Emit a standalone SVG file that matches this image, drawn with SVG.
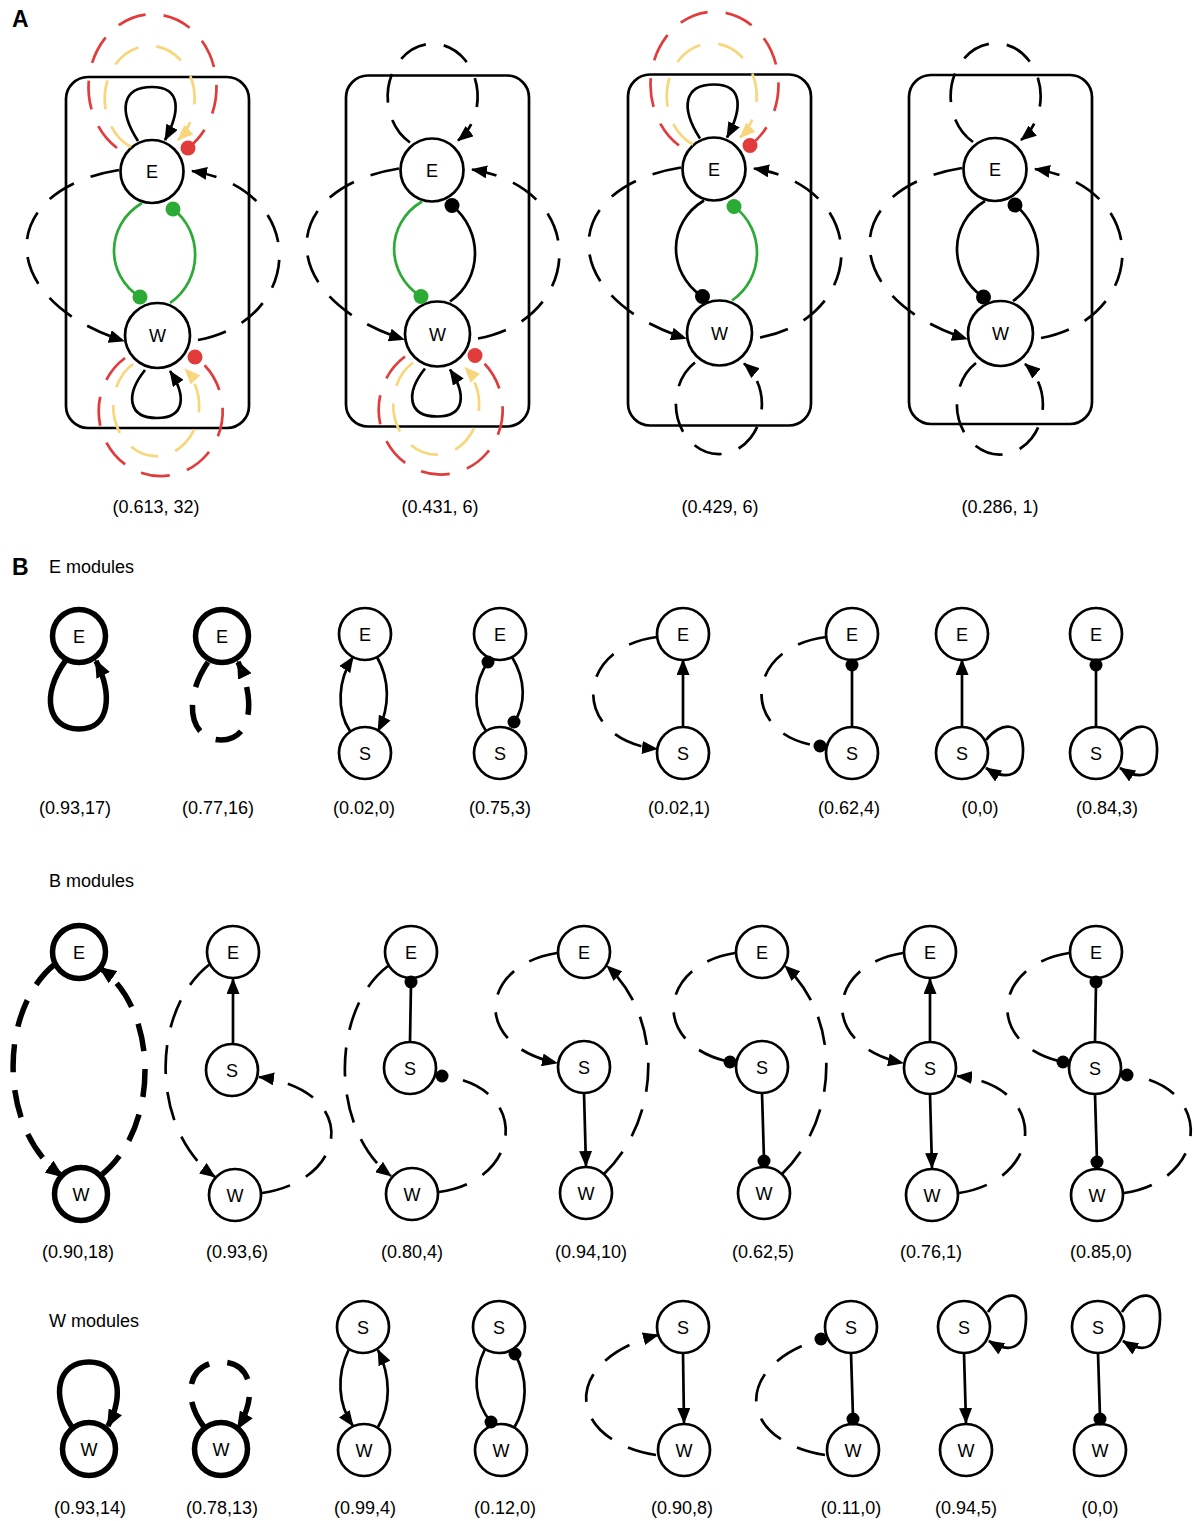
<svg xmlns="http://www.w3.org/2000/svg" width="1194" height="1521" viewBox="0 0 1194 1521">
<defs>
<style>
.n{fill:#fff;stroke:#000;stroke-width:2.7}
.nt{fill:#fff;stroke:#000;stroke-width:5.5}
.e{fill:none;stroke:#000;stroke-width:2.7}
.t{stroke-width:5.5}
.d{stroke-dasharray:29 18}
.dt{stroke-dasharray:28 18}
.red{stroke:#e23b3b}
.yel{stroke:#f8d67c}
.grn{stroke:#2caa36}
.box{fill:none;stroke:#000;stroke-width:2.7}
.dot{fill:#000}
.dr{fill:#e23b3b}
.dg{fill:#2caa36}
text{font-family:"Liberation Sans",Arial,Helvetica,sans-serif;font-size:18px;fill:#000}
.c{text-anchor:middle}
.hd{font-weight:bold;font-size:23px}
</style>
<marker id="ar" viewBox="0 0 16 13" refX="15" refY="6.5" markerWidth="16" markerHeight="13" markerUnits="userSpaceOnUse" orient="auto"><path d="M0,0L16,6.5L0,13z" fill="#000"/></marker>
<marker id="arY" viewBox="0 0 16 13" refX="15" refY="6.5" markerWidth="16" markerHeight="13" markerUnits="userSpaceOnUse" orient="auto"><path d="M0,0L16,6.5L0,13z" fill="#f8d67c"/></marker>
<marker id="arT" viewBox="0 0 18 15" refX="16" refY="7.5" markerWidth="18" markerHeight="15" markerUnits="userSpaceOnUse" orient="auto"><path d="M0,0L18,7.5L0,15z" fill="#000"/></marker>
</defs>
<rect width="1194" height="1521" fill="#fff"/>

<text x="12" y="27" class="hd">A</text>
<text x="12" y="575" class="hd">B</text>

<!-- Panel A, diagram 1 -->
<g id="a1" transform="translate(0,0)">
<rect x="66" y="77" width="183" height="351" rx="22" class="box"/>
<g id="a1-nodes">
<g id="a1-E"><circle cx="152" cy="171.5" r="31.5" class="n"/><text x="152" y="178" class="c">E</text></g>
<g id="a1-W"><circle cx="157.5" cy="335.5" r="32.5" class="n"/><text x="157.5" y="342" class="c">W</text></g>
</g>
<g id="a1-connectors">
<path class="e" d="M138,141 C118,110 122,87 152,87 C182,87 180,112 165,140" marker-end="url(#ar)"/>
<path class="e red d" d="M117,148 A64,73 0 1 1 188,148"/>
<circle cx="188" cy="148" r="7.5" class="dr"/>
<path class="e yel d" d="M131,147 A45,53 0 1 1 178,140" marker-end="url(#arY)"/>
<path class="e d" d="M119,170 C-5,190 -5,300 124,341" marker-end="url(#ar)"/>
<path class="e d" d="M198,340 C305,320 310,190 192,171" marker-end="url(#ar)"/>
<path class="e grn" d="M142,203 C105,225 105,275 140,297"/>
<circle cx="140" cy="297" r="7.5" class="dg"/>
<path class="e grn" d="M170,303 C203,280 203,232 173,209"/>
<circle cx="173" cy="209" r="7.5" class="dg"/>
<path class="e" d="M145,370 C125,395 128,418 157,418 C186,418 186,395 170,371" marker-end="url(#ar)"/>
<path class="e red d" d="M125,358 A62,65 0 1 0 195,357"/>
<circle cx="195" cy="357" r="7.5" class="dr"/>
<path class="e yel d" d="M133,364 A43,50 0 1 0 185,369" marker-end="url(#arY)"/>
</g>
</g>

<!-- Panel A, diagram 2 -->
<g id="a2" transform="translate(280,-1.5)">
<rect x="66" y="77" width="183" height="351" rx="22" class="box"/>
<g id="a2-nodes">
<g id="a2-E"><circle cx="152" cy="171.5" r="31.5" class="n"/><text x="152" y="178" class="c">E</text></g>
<g id="a2-W"><circle cx="157.5" cy="335.5" r="32.5" class="n"/><text x="157.5" y="342" class="c">W</text></g>
</g>
<g id="a2-connectors">
<path class="e d" d="M130,144 A45,53 0 1 1 178,142" marker-end="url(#ar)"/>
<path class="e d" d="M119,170 C-5,190 -5,300 124,341" marker-end="url(#ar)"/>
<path class="e d" d="M198,340 C305,320 310,190 192,171" marker-end="url(#ar)"/>
<path class="e grn" d="M142,203 C105,225 105,275 141,298"/>
<circle cx="141" cy="298" r="7.5" class="dg"/>
<path class="e" d="M170,303 C203,280 203,232 172,207"/>
<circle cx="172" cy="207" r="7.5" class="dot"/>
<path class="e" d="M145,370 C125,395 128,418 157,418 C186,418 186,395 170,371" marker-end="url(#ar)"/>
<path class="e red d" d="M125,358 A62,65 0 1 0 195,357"/>
<circle cx="195" cy="357" r="7.5" class="dr"/>
<path class="e yel d" d="M133,364 A43,50 0 1 0 185,369" marker-end="url(#arY)"/>
</g>
</g>

<!-- Panel A, diagram 3 -->
<g id="a3" transform="translate(562,-2.5)">
<rect x="66" y="77" width="183" height="351" rx="22" class="box"/>
<g id="a3-nodes">
<g id="a3-E"><circle cx="152" cy="171.5" r="31.5" class="n"/><text x="152" y="178" class="c">E</text></g>
<g id="a3-W"><circle cx="157.5" cy="335.5" r="32.5" class="n"/><text x="157.5" y="342" class="c">W</text></g>
</g>
<g id="a3-connectors">
<path class="e" d="M138,141 C118,110 122,87 152,87 C182,87 180,112 165,140" marker-end="url(#ar)"/>
<path class="e red d" d="M117,148 A64,73 0 1 1 188,148"/>
<circle cx="188" cy="148" r="7.5" class="dr"/>
<path class="e yel d" d="M131,147 A45,53 0 1 1 178,140" marker-end="url(#arY)"/>
<path class="e d" d="M119,170 C-5,190 -5,300 124,341" marker-end="url(#ar)"/>
<path class="e d" d="M198,340 C305,320 310,190 192,171" marker-end="url(#ar)"/>
<path class="e" d="M142,203 C105,225 105,275 140,299"/>
<circle cx="140.5" cy="299" r="7.5" class="dot"/>
<path class="e grn" d="M170,303 C203,280 203,232 172,209"/>
<circle cx="172" cy="209" r="7.5" class="dg"/>
<path class="e d" d="M133,365 A43,50 0 1 0 182,366" marker-end="url(#ar)"/>
</g>
</g>

<!-- Panel A, diagram 4 -->
<g id="a4" transform="translate(843,-2)">
<rect x="66" y="77" width="183" height="349" rx="22" class="box"/>
<g id="a4-nodes">
<g id="a4-E"><circle cx="152" cy="171.5" r="31.5" class="n"/><text x="152" y="178" class="c">E</text></g>
<g id="a4-W"><circle cx="157.5" cy="335.5" r="32.5" class="n"/><text x="157.5" y="342" class="c">W</text></g>
</g>
<g id="a4-connectors">
<path class="e d" d="M130,144 A45,53 0 1 1 178,142" marker-end="url(#ar)"/>
<path class="e d" d="M119,170 C-5,190 -5,300 124,341" marker-end="url(#ar)"/>
<path class="e d" d="M198,340 C305,320 310,190 192,171" marker-end="url(#ar)"/>
<path class="e" d="M142,203 C105,225 105,275 140,299"/>
<circle cx="140.5" cy="299" r="7.5" class="dot"/>
<path class="e" d="M170,303 C203,280 203,232 172,207"/>
<circle cx="172" cy="207" r="7.5" class="dot"/>
<path class="e d" d="M133,365 A43,50 0 1 0 182,366" marker-end="url(#ar)"/>
</g>
</g>

<g id="a-labels">
<text x="156" y="513" class="c">(0.613, 32)</text>
<text x="440" y="513" class="c">(0.431, 6)</text>
<text x="720" y="513" class="c">(0.429, 6)</text>
<text x="1000" y="513" class="c">(0.286, 1)</text>
</g>

<!-- Panel B -->
<text x="49" y="573">E modules</text>
<text x="49" y="887">B modules</text>
<text x="49" y="1327">W modules</text>

<!-- E modules nodes -->
<g id="e1-E"><circle cx="79" cy="636" r="26.5" class="nt"/><text x="79" y="642.5" class="c">E</text></g>
<g id="e2-E"><circle cx="222" cy="636" r="26.5" class="nt"/><text x="222" y="642.5" class="c">E</text></g>
<g id="e3-E"><circle cx="365" cy="634" r="26" class="n"/><text x="365" y="640.5" class="c">E</text></g>
<g id="e3-S"><circle cx="365" cy="753" r="26" class="n"/><text x="365" y="759.5" class="c">S</text></g>
<g id="e4-E"><circle cx="500" cy="634" r="26" class="n"/><text x="500" y="640.5" class="c">E</text></g>
<g id="e4-S"><circle cx="500" cy="753" r="26" class="n"/><text x="500" y="759.5" class="c">S</text></g>
<g id="e5-E"><circle cx="683" cy="634" r="26" class="n"/><text x="683" y="640.5" class="c">E</text></g>
<g id="e5-S"><circle cx="683" cy="753" r="26" class="n"/><text x="683" y="759.5" class="c">S</text></g>
<g id="e6-E"><circle cx="852" cy="634" r="26" class="n"/><text x="852" y="640.5" class="c">E</text></g>
<g id="e6-S"><circle cx="852" cy="753" r="26" class="n"/><text x="852" y="759.5" class="c">S</text></g>
<g id="e7-E"><circle cx="962" cy="634" r="26" class="n"/><text x="962" y="640.5" class="c">E</text></g>
<g id="e7-S"><circle cx="962" cy="753" r="26" class="n"/><text x="962" y="759.5" class="c">S</text></g>
<g id="e8-E"><circle cx="1096" cy="634" r="26" class="n"/><text x="1096" y="640.5" class="c">E</text></g>
<g id="e8-S"><circle cx="1096" cy="753" r="26" class="n"/><text x="1096" y="759.5" class="c">S</text></g>

<!-- B modules nodes -->
<g id="b1-E"><circle cx="79" cy="952" r="26.5" class="nt"/><text x="79" y="958.5" class="c">E</text></g>
<g id="b1-W"><circle cx="81" cy="1194" r="26.5" class="nt"/><text x="81" y="1200.5" class="c">W</text></g>
<g id="b2-E"><circle cx="233" cy="952" r="26" class="n"/><text x="233" y="958.5" class="c">E</text></g>
<g id="b2-S"><circle cx="232" cy="1070" r="26" class="n"/><text x="232" y="1076.5" class="c">S</text></g>
<g id="b2-W"><circle cx="235" cy="1195" r="26" class="n"/><text x="235" y="1201.5" class="c">W</text></g>
<g id="b3-E"><circle cx="411" cy="952" r="26" class="n"/><text x="411" y="958.5" class="c">E</text></g>
<g id="b3-S"><circle cx="410" cy="1068" r="26" class="n"/><text x="410" y="1074.5" class="c">S</text></g>
<g id="b3-W"><circle cx="412" cy="1194" r="26" class="n"/><text x="412" y="1200.5" class="c">W</text></g>
<g id="b4-E"><circle cx="584" cy="952" r="26" class="n"/><text x="584" y="958.5" class="c">E</text></g>
<g id="b4-S"><circle cx="584" cy="1067" r="26" class="n"/><text x="584" y="1073.5" class="c">S</text></g>
<g id="b4-W"><circle cx="586" cy="1193" r="26" class="n"/><text x="586" y="1199.5" class="c">W</text></g>
<g id="b5-E"><circle cx="762" cy="952" r="26" class="n"/><text x="762" y="958.5" class="c">E</text></g>
<g id="b5-S"><circle cx="762" cy="1067" r="26" class="n"/><text x="762" y="1073.5" class="c">S</text></g>
<g id="b5-W"><circle cx="764" cy="1193" r="26" class="n"/><text x="764" y="1199.5" class="c">W</text></g>
<g id="b6-E"><circle cx="930" cy="952" r="26" class="n"/><text x="930" y="958.5" class="c">E</text></g>
<g id="b6-S"><circle cx="930" cy="1068" r="26" class="n"/><text x="930" y="1074.5" class="c">S</text></g>
<g id="b6-W"><circle cx="932" cy="1195" r="26" class="n"/><text x="932" y="1201.5" class="c">W</text></g>
<g id="b7-E"><circle cx="1096" cy="952" r="26" class="n"/><text x="1096" y="958.5" class="c">E</text></g>
<g id="b7-S"><circle cx="1095" cy="1068" r="26" class="n"/><text x="1095" y="1074.5" class="c">S</text></g>
<g id="b7-W"><circle cx="1097" cy="1195" r="26" class="n"/><text x="1097" y="1201.5" class="c">W</text></g>

<!-- W modules nodes -->
<g id="w1-W"><circle cx="89" cy="1449" r="26.5" class="nt"/><text x="89" y="1455.5" class="c">W</text></g>
<g id="w2-W"><circle cx="221" cy="1449" r="26.5" class="nt"/><text x="221" y="1455.5" class="c">W</text></g>
<g id="w3-S"><circle cx="363" cy="1327" r="26" class="n"/><text x="363" y="1333.5" class="c">S</text></g>
<g id="w3-W"><circle cx="364" cy="1450" r="26" class="n"/><text x="364" y="1456.5" class="c">W</text></g>
<g id="w4-S"><circle cx="499" cy="1327" r="26" class="n"/><text x="499" y="1333.5" class="c">S</text></g>
<g id="w4-W"><circle cx="501" cy="1450" r="26" class="n"/><text x="501" y="1456.5" class="c">W</text></g>
<g id="w5-S"><circle cx="683" cy="1327" r="26" class="n"/><text x="683" y="1333.5" class="c">S</text></g>
<g id="w5-W"><circle cx="684" cy="1450" r="26" class="n"/><text x="684" y="1456.5" class="c">W</text></g>
<g id="w6-S"><circle cx="851" cy="1327" r="26" class="n"/><text x="851" y="1333.5" class="c">S</text></g>
<g id="w6-W"><circle cx="853" cy="1450" r="26" class="n"/><text x="853" y="1456.5" class="c">W</text></g>
<g id="w7-S"><circle cx="964" cy="1327" r="26" class="n"/><text x="964" y="1333.5" class="c">S</text></g>
<g id="w7-W"><circle cx="966" cy="1450" r="26" class="n"/><text x="966" y="1456.5" class="c">W</text></g>
<g id="w8-S"><circle cx="1098" cy="1327" r="26" class="n"/><text x="1098" y="1333.5" class="c">S</text></g>
<g id="w8-W"><circle cx="1100" cy="1450" r="26" class="n"/><text x="1100" y="1456.5" class="c">W</text></g>

<g id="b-connectors">
<!-- E modules -->
<path class="e t" d="M66,660 C40,695 48,729 79,729 C110,729 113,695 96,661" marker-end="url(#arT)"/>
<path class="e t dt" d="M208,662 C182,700 190,740 221,740 C252,740 256,700 238,662" marker-end="url(#arT)"/>
<path class="e" d="M350,731 C336,710 338,680 353,657" marker-end="url(#ar)"/>
<path class="e" d="M377,657 C390,680 390,707 378,731" marker-end="url(#ar)"/>
<path class="e" d="M486,731 C472,710 474,682 488,662"/>
<circle cx="488" cy="662" r="6.5" class="dot"/>
<path class="e" d="M512,657 C526,680 526,705 514,722"/>
<circle cx="514" cy="722" r="6.5" class="dot"/>
<path class="e" d="M683,727 L683,660" marker-end="url(#ar)"/>
<path class="e d" d="M657,637 C572,648 572,740 657,749" marker-end="url(#ar)"/>
<path class="e" d="M852,727 L852,666"/>
<circle cx="852" cy="665" r="6.5" class="dot"/>
<path class="e d" d="M826,637 C741,648 741,738 820,746"/>
<circle cx="820" cy="746" r="6.5" class="dot"/>
<path class="e" d="M962,727 L962,660" marker-end="url(#ar)"/>
<path class="e" d="M986,740 C1000,722 1022,720 1023,748 C1024,775 1008,782 986,768" marker-end="url(#ar)"/>
<path class="e" d="M1096,727 L1096,666"/>
<circle cx="1096" cy="665" r="6.5" class="dot"/>
<path class="e" d="M1120,740 C1134,722 1156,720 1157,748 C1158,775 1142,782 1120,768" marker-end="url(#ar)"/>
<!-- B modules -->
<path class="e t dt" d="M55,964 C-2,1010 -2,1130 62,1176" marker-end="url(#arT)"/>
<path class="e t dt" d="M100,1176 C160,1130 160,1010 100,968" marker-end="url(#arT)"/>
<path class="e" d="M233,1044 L233,979" marker-end="url(#ar)"/>
<path class="e d" d="M210,964 C150,1010 150,1130 215,1177" marker-end="url(#ar)"/>
<path class="e d" d="M262,1193 C350,1180 360,1090 259,1077" marker-end="url(#ar)"/>
<path class="e" d="M410,1042 L411,984"/>
<circle cx="411" cy="982" r="6.5" class="dot"/>
<path class="e d" d="M388,966 C330,1010 330,1130 391,1176" marker-end="url(#ar)"/>
<path class="e d" d="M439,1192 C525,1180 530,1085 442,1076"/>
<circle cx="442" cy="1076" r="6.5" class="dot"/>
<path class="e" d="M584,1093 L586,1166" marker-end="url(#ar)"/>
<path class="e d" d="M557,953 C480,965 470,1045 557,1063" marker-end="url(#ar)"/>
<path class="e d" d="M604,1174 C660,1120 665,1020 607,966" marker-end="url(#ar)"/>
<path class="e" d="M762,1093 L764,1160"/>
<circle cx="764" cy="1161" r="6.5" class="dot"/>
<path class="e d" d="M735,953 C658,965 650,1045 730,1062"/>
<circle cx="730" cy="1062" r="6.5" class="dot"/>
<path class="e d" d="M782,1174 C838,1120 843,1020 785,966" marker-end="url(#ar)"/>
<path class="e" d="M930,1042 L930,979" marker-end="url(#ar)"/>
<path class="e" d="M930,1094 L932,1168" marker-end="url(#ar)"/>
<path class="e d" d="M903,953 C826,965 818,1045 903,1063" marker-end="url(#ar)"/>
<path class="e d" d="M959,1193 C1045,1180 1050,1085 957,1076" marker-end="url(#ar)"/>
<path class="e" d="M1095,1042 L1096,984"/>
<circle cx="1096" cy="982" r="6.5" class="dot"/>
<path class="e" d="M1095,1094 L1097,1162"/>
<circle cx="1097" cy="1162" r="6.5" class="dot"/>
<path class="e d" d="M1069,953 C992,965 984,1045 1063,1062"/>
<circle cx="1063" cy="1062" r="6.5" class="dot"/>
<path class="e d" d="M1124,1193 C1210,1180 1215,1085 1127,1075"/>
<circle cx="1127" cy="1075" r="6.5" class="dot"/>
<!-- W modules -->
<path class="e t" d="M72,1427 C50,1395 58,1362 89,1362 C120,1362 124,1395 108,1426" marker-end="url(#arT)"/>
<path class="e t dt" d="M204,1427 C180,1395 190,1362 221,1362 C252,1362 258,1395 238,1428" marker-end="url(#arT)"/>
<path class="e" d="M349,1349 C336,1375 338,1405 353,1426" marker-end="url(#ar)"/>
<path class="e" d="M378,1427 C391,1405 391,1377 378,1350" marker-end="url(#ar)"/>
<path class="e" d="M485,1349 C472,1375 474,1402 491,1422"/>
<circle cx="491" cy="1422" r="6.5" class="dot"/>
<path class="e" d="M514,1428 C528,1405 528,1378 515,1354"/>
<circle cx="515" cy="1354" r="6.5" class="dot"/>
<path class="e" d="M683,1353 L684,1423" marker-end="url(#ar)"/>
<path class="e d" d="M656,1455 C565,1440 560,1360 658,1335" marker-end="url(#ar)"/>
<path class="e" d="M851,1353 L853,1417"/>
<circle cx="853" cy="1419" r="6.5" class="dot"/>
<path class="e d" d="M825,1455 C735,1440 733,1365 821,1339"/>
<circle cx="821" cy="1339" r="6.5" class="dot"/>
<path class="e" d="M964,1353 L966,1423" marker-end="url(#ar)"/>
<path class="e" d="M988,1312 C1003,1289 1027,1289 1026,1319 C1025,1349 1010,1354 989,1341" marker-end="url(#ar)"/>
<path class="e" d="M1098,1353 L1100,1417"/>
<circle cx="1100" cy="1419" r="6.5" class="dot"/>
<path class="e" d="M1122,1312 C1137,1289 1161,1289 1160,1319 C1159,1349 1144,1354 1123,1341" marker-end="url(#ar)"/>
</g>

<g id="b-labels">
<text x="75" y="814" class="c">(0.93,17)</text>
<text x="218" y="814" class="c">(0.77,16)</text>
<text x="364" y="814" class="c">(0.02,0)</text>
<text x="500" y="814" class="c">(0.75,3)</text>
<text x="679" y="814" class="c">(0.02,1)</text>
<text x="849" y="814" class="c">(0.62,4)</text>
<text x="980" y="814" class="c">(0,0)</text>
<text x="1107" y="814" class="c">(0.84,3)</text>
<text x="78" y="1258" class="c">(0.90,18)</text>
<text x="237" y="1258" class="c">(0.93,6)</text>
<text x="412" y="1258" class="c">(0.80,4)</text>
<text x="591" y="1258" class="c">(0.94,10)</text>
<text x="763" y="1258" class="c">(0.62,5)</text>
<text x="931" y="1258" class="c">(0.76,1)</text>
<text x="1101" y="1258" class="c">(0.85,0)</text>
<text x="90" y="1514" class="c">(0.93,14)</text>
<text x="222" y="1514" class="c">(0.78,13)</text>
<text x="365" y="1514" class="c">(0.99,4)</text>
<text x="505" y="1514" class="c">(0.12,0)</text>
<text x="682" y="1514" class="c">(0.90,8)</text>
<text x="851" y="1514" class="c">(0.11,0)</text>
<text x="966" y="1514" class="c">(0.94,5)</text>
<text x="1100" y="1514" class="c">(0,0)</text>
</g>
</svg>
